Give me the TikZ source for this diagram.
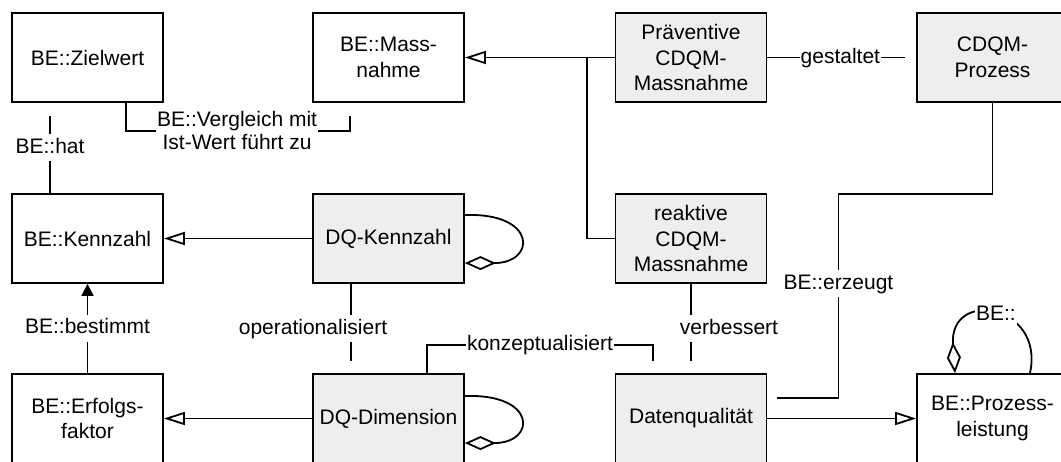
\documentclass[tikz,border=0pt]{standalone}
\usepackage{fontspec}
\setmainfont{Liberation Sans}
\usetikzlibrary{arrows.meta,calc}
\definecolor{boxgray}{RGB}{238,238,238}
\begin{document}
\begin{tikzpicture}[x=1pt,y=-1pt,
  box/.style={draw,line width=1.8pt,minimum width=151pt,minimum height=89pt,align=center,inner sep=0pt,font=\fontsize{21}{25.8}\selectfont},
  cbox/.style={box,fill=boxgray},
  con/.style={line width=1.8pt},
  gen/.style={con,-{Triangle[open,fill=white,length=21pt,width=13pt]}},
  agg/.style={con,-{Diamond[open,fill=white,length=31pt,width=14pt]}},
  lbl/.style={fill=white,font=\fontsize{21}{25.8}\selectfont,inner xsep=1pt,inner ysep=4pt,text height=15pt,text depth=4pt},
  lbltwo/.style={fill=white,font=\fontsize{21}{23}\selectfont,inner xsep=1pt,inner ysep=1pt,align=center},
]
\useasboundingbox (0,0) rectangle (1061,461);
\clip (0,0) rectangle (1061,461);

% nodes
\node[box]  (ziel) at (87.5,57.5)  {BE::Zielwert};
\node[box]  (mass) at (388.5,57.5) {BE::Mass-\\nahme};
\node[cbox] (prae) at (691,57.5)   {Präventive\\CDQM-\\Massnahme};
\node[cbox] (proz) at (992.5,57.5) {CDQM-\\Prozess};
\node[box]  (kenn) at (87.5,238.5) {BE::Kennzahl};
\node[cbox] (dqk)  at (388.5,238.5){DQ-Kennzahl};
\node[cbox] (reak) at (691,238.5)  {reaktive\\CDQM-\\Massnahme};
\node[box]  (erf)  at (87.5,418.5) {BE::Erfolgs-\\faktor};
\node[cbox] (dqd)  at (388.5,418.5){DQ-Dimension};
\node[cbox] (dq)   at (691,418.5)  {Datenqualität};
\node[box]  (pl)   at (992.5,418.5){BE::Prozess-\\leistung};

% BE::hat
\draw[con] ([xshift=-37.5pt,yshift=-13pt]ziel.south) -- node[lbl,pos=0.41]{BE::hat} ([xshift=-37.5pt]kenn.north);

% Vergleich
\draw[con] ([xshift=-38pt]ziel.south east) |- node[lbltwo,pos=0.748]{BE::Vergleich mit\\Ist-Wert führt zu} ([xshift=38pt,yshift=-28pt]mass.south west) -- ([xshift=38pt,yshift=-13pt]mass.south west);

% generalisations
\draw[gen] (prae.west) -- (mass.east);
\draw[con] (reak.west) -- ++(-28,0) coordinate (j) -- (j |- prae.west);
\draw[gen] (dqk.west) -- (kenn.east);
\draw[gen] (dqd.west) -- (erf.east);
\draw[gen] (dq.east) -- (pl.west);

% gestaltet
\draw[con] (prae.east) -- node[lbl,pos=0.53]{gestaltet} ([xshift=-11pt]proz.west);

% operationalisiert, verbessert
\draw[con] ([xshift=-37.5pt]dqk.south) -- node[lbl,pos=0.58,xshift=-38pt]{operationalisiert} ([xshift=-37.5pt,yshift=12pt]dqd.north);
\draw[con] (reak.south) -- node[lbl,pos=0.58,xshift=38pt]{verbessert} ([yshift=12pt]dq.north);

% konzeptualisiert
\draw[con] ([xshift=38.5pt]dqd.north) -- ++(0,-28) -| node[lbl,pos=0.25]{konzeptualisiert} ([xshift=-38pt,yshift=12pt]dq.north);

% BE::bestimmt
\draw[con,-{Triangle[length=12pt,width=12pt]}] (erf.north) -- node[lbl,pos=0.505]{BE::bestimmt} (kenn.south);

% BE::erzeugt
\coordinate (e1) at ([xshift=10pt,yshift=20.5pt]dq.east);
\draw[con] (proz.south) -- ++(0,91) -| node[lbl,pos=0.72]{BE::erzeugt} ([xshift=61pt]e1) -- (e1);

% self loops
\draw[agg] ([yshift=-22pt]dqk.north east) .. controls +(72,-3) and +(72,0) .. ([yshift=-70pt]dqk.north east);
\draw[agg] ([yshift=-23pt]dqd.north east) .. controls +(72,-3) and +(72,0) .. ([yshift=-70pt]dqd.north east);
\draw[agg] ([xshift=37.5pt]pl.north) .. controls +(15,-69) and +(-6,-85) .. node[lbl,pos=0.5,inner ysep=1pt]{BE::} ([xshift=-37.5pt]pl.north);
\end{tikzpicture}
\end{document}
